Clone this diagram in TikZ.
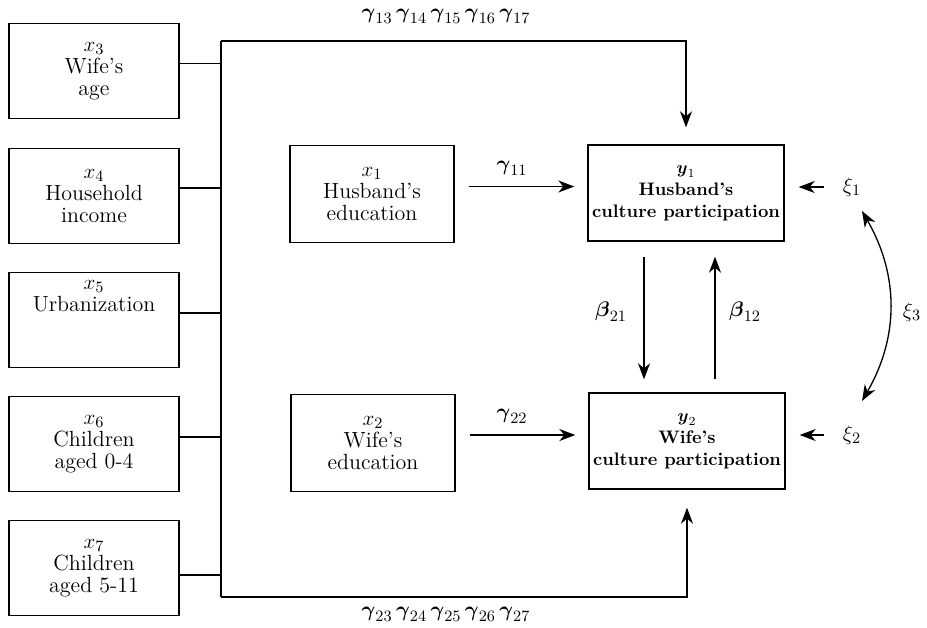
\documentclass[tikz,border=0pt]{standalone}
\usepackage{amsmath,amssymb}
\usepackage{tikz}
\usetikzlibrary{arrows.meta,positioning,calc}
\tikzstyle{exo} = [rectangle, draw, line width=0.8pt, minimum width=3.4cm, minimum height=1.9cm, align=center, font=\fontsize{12.5}{12.5}\selectfont]
\tikzstyle{cause} = [exo, minimum width=3.28cm, minimum height=1.94cm]
\tikzstyle{endo} = [exo, minimum width=3.92cm, minimum height=1.92cm, inner sep=2pt, font=\fontsize{10.3}{12.5}\selectfont\bfseries]
\tikzstyle{link} = [line width=0.75pt]
\tikzstyle{arr} = [link, -{Stealth[length=0.32cm,width=0.24cm,inset=0.1cm]}]
\tikzstyle{coef} = [font=\fontsize{12.5}{13}\selectfont]

\begin{document}
\begin{tikzpicture}[x=0.02cm, y=-0.02cm]
    \useasboundingbox (0,0) rectangle (927,627);
    % exogenous controls on the left
    \node[exo] (x3) at (94,71) {$x_3$\\Wife's\\age};
    \node[exo] (x4) at (94,196) {$x_4$\\Household\\income};
    \node[exo] (x5) at (94,320) {$x_5$\\Urbanization\\[1.2em]};
    \node[exo] (x6) at (94,444) {$x_6$\\Children\\aged 0-4};
    \node[exo] (x7) at (94,568) {$x_7$\\Children\\aged 5-11};
    % education
    \node[cause] (x1) at (372,194) {$x_1$\\Husband's\\education};
    \node[cause] (x2) at (373,443) {$x_2$\\Wife's\\education};
    % culture participation
    \node[endo] (y1) at (686,193) {$\boldsymbol{y}_1$\\Husband's\\culture participation};
    \node[endo] (y2) at (687,441) {$\boldsymbol{y}_2$\\Wife's\\culture participation};
    % bus
    \coordinate (bt) at (221,41);
    \coordinate (bb) at (221,597);
    \foreach \n/\s in {x3/0.15, x4/0.16, x5/0.14, x6/0.14, x7/-0.14}
        \draw[link] ([yshift=\s cm]\n.east) -- ([yshift=\s cm]\n.east -| bt);
    \draw[link] (bt) -- (bb);
    \draw[arr, shorten >=0.34cm] (bt) -- (bt -| y1.north) -- (y1.north);
    \draw[arr, shorten >=0.36cm] (bb) -- (bb -| y2.south) -- (y2.south);
    \node[coef] (gtop) at (446,16) {$\boldsymbol{\gamma}_{13}\,\boldsymbol{\gamma}_{14}\,\boldsymbol{\gamma}_{15}\,\boldsymbol{\gamma}_{16}\,\boldsymbol{\gamma}_{17}$};
    \node[coef] (gbot) at (446,614) {$\boldsymbol{\gamma}_{23}\,\boldsymbol{\gamma}_{24}\,\boldsymbol{\gamma}_{25}\,\boldsymbol{\gamma}_{26}\,\boldsymbol{\gamma}_{27}$};
    % education effects
    \draw[arr, shorten <=0.28cm, shorten >=0.26cm] ([yshift=0.15cm]x1.east) -- ([yshift=0.15cm]x1.east -| y1.west);
    \node[coef] (g11) at (512,168) {$\boldsymbol{\gamma}_{11}$};
    \draw[arr, shorten <=0.28cm, shorten >=0.26cm] ([yshift=0.16cm]x2.east) -- ([yshift=0.16cm]x2.east -| y2.west);
    \node[coef] (g22) at (512,416) {$\boldsymbol{\gamma}_{22}$};
    % reciprocal effects
    \draw[arr, shorten <=0.3cm, shorten >=0.26cm] ([xshift=-0.84cm]y1.south) -- ([xshift=-0.84cm]y1.south |- y2.north);
    \draw[arr, shorten <=0.26cm, shorten >=0.3cm] ([xshift=0.58cm]y1.south |- y2.north) -- ([xshift=0.58cm]y1.south);
    \node[coef] (b21) at (611,312) {$\boldsymbol{\beta}_{21}$};
    \node[coef] (b12) at (745,312) {$\boldsymbol{\beta}_{12}$};
    % disturbances
    \node[coef] (xi1) at (852,187) {$\xi_1$};
    \node[coef] (xi2) at (852,435) {$\xi_2$};
    \node[coef] (xi3) at (912,312) {$\xi_3$};
    \draw[arr, shorten <=0.26cm, shorten >=0.28cm] (xi1.west) -- (xi1.west -| y1.east);
    \draw[arr, shorten <=0.26cm, shorten >=0.28cm] (xi2.west) -- (xi2.west -| y2.east);
    \coordinate (c1) at (862,211);
    \coordinate (c2) at (862,401);
    \draw[arr, {Stealth[length=0.32cm,width=0.24cm,inset=0.1cm]}-{Stealth[length=0.32cm,width=0.24cm,inset=0.1cm]}] (c1) to[bend left=30] (c2);
\end{tikzpicture}
\end{document}
